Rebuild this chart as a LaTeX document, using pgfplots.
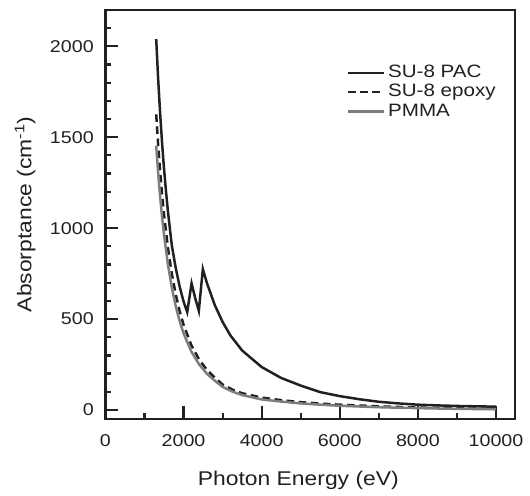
\documentclass[border=0pt]{standalone}
\usepackage{fontspec}
\setmainfont{Liberation Sans}[FakeStretch=1.15]
\usepackage{pgfplots}
\pgfplotsset{compat=1.18}
\definecolor{ink}{RGB}{35,31,32}
\definecolor{pmma}{RGB}{122,126,129}
\begin{document}
\begin{tikzpicture}
\begin{axis}[
  name=ax,
  scale only axis, width=206pt, height=205.5pt,
  xmin=0, xmax=10490, ymin=-48, ymax=2200,
  line width=1.1pt, draw=ink,
  axis line style={line width=1.1pt, draw=ink},
  tick style={line width=1.1pt, color=ink},
  tick align=inside,
  xtick pos=left, ytick pos=left,
  xtick={0,2000,4000,6000,8000,10000},
  minor xtick={1000,3000,5000,7000,9000},
  ytick={0,500,1000,1500,2000},
  minor ytick={100,200,300,400,600,700,800,900,1100,1200,1300,1400,1600,1700,1800,1900,2100},
  major tick length=6.5pt, minor tick length=3pt,
  scaled x ticks=false, scaled y ticks=false,
  /pgf/number format/assume math mode=true,
  /pgf/number format/set thousands separator={},
  ticklabel style={font=\fontsize{8.6}{10}\selectfont, text=ink},
  xticklabel style={yshift=-4pt},
  yticklabel style={xshift=-2pt},
  xlabel={Photon Energy (eV)},
  ylabel={Absorptance (cm\textsuperscript{-1})},
  label style={font=\fontsize{10}{12}\selectfont, text=ink},
  xlabel style={xshift=-6pt, yshift=-5pt},
  legend style={at={(rel axis cs:0.572,0.885)}, anchor=north west, draw=none, fill=none,
    font=\fontsize{9}{10}\selectfont, text=ink, row sep=-1pt, nodes={inner sep=1.5pt}},
  legend cell align=left,
  legend image code/.code={\draw[#1] (0pt,0pt) -- (18pt,0pt);},
]
\addplot[line width=1.25pt, color=ink] coordinates {
(1300,2040) (1350,1822) (1400,1634) (1450,1470) (1500,1328) (1550,1204) (1600,1094)
(1650,998) (1700,905) (1800,781) (1900,679) (2000,597) (2094,538)
(2206,696) (2300,614) (2392,545)
(2494,775) (2600,697) (2800,577) (3000,484) (3200,410) (3500,327) (4000,236)
(4500,176) (5000,134) (5500,98) (6000,76) (6500,59) (7000,45) (7500,36)
(8000,29) (8500,25) (9000,22) (9500,20) (10000,18)
};
\addlegendentry{SU-8 PAC}
\addplot[line width=1.25pt, color=ink, dash pattern=on 3.8pt off 2.3pt] coordinates {
(1300,1626) (1350,1458) (1400,1313) (1450,1187) (1500,1076) (1600,893) (1700,750)
(1800,636) (1900,544) (2000,469) (2200,356) (2400,277) (2600,220) (2800,178)
(3000,140) (3250,112) (3500,92) (4000,68) (4500,54) (5000,43) (5500,35)
(6000,29) (7000,20) (8000,13) (9000,9) (10000,6)
};
\addlegendentry{SU-8 epoxy}
\addplot[line width=1.25pt, color=pmma] coordinates {
(1300,1453) (1350,1304) (1400,1175) (1450,1062) (1500,964) (1600,801) (1700,673)
(1800,571) (1900,489) (2000,422) (2200,321) (2400,250) (2600,199) (2800,161)
(3000,127) (3250,101) (3500,82) (4000,58) (4500,46) (5000,36) (5500,29)
(6000,23) (7000,15) (8000,10) (9000,6) (10000,4)
};
\addlegendentry{PMMA}
\end{axis}
\path (ax.south west) ++(-53pt,-34.5pt) (ax.north east) ++(6pt,5pt);
\end{tikzpicture}
\end{document}
